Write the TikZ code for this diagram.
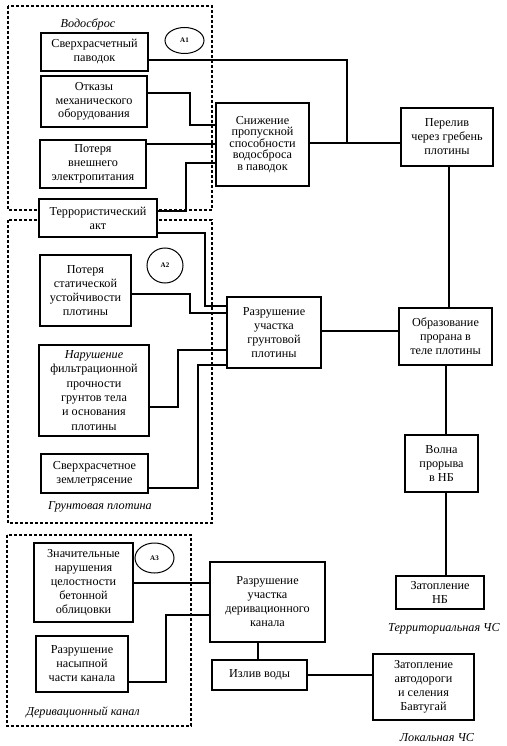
\documentclass[tikz,border=0pt]{standalone}
\usepackage{fontspec}
\setmainfont{Liberation Serif}
\usetikzlibrary{shapes.geometric}
\newcommand{\fsz}{\fontsize{12.2pt}{14pt}\selectfont}
\tikzset{
  box/.style={draw, line width=1.2pt, fill=white, align=center, inner sep=1pt, font=\fsz},
  conn/.style={line width=1.1pt},
  grp/.style={line width=1.3pt, dash pattern=on 3pt off 2pt},
  lab/.style={font=\fsz\itshape, inner sep=0pt},
  circ/.style={draw, ellipse, line width=1pt, inner sep=0pt, font=\fontsize{7pt}{8pt}\selectfont\bfseries}
}
\begin{document}
\begin{tikzpicture}[x=1pt,y=-1pt]
\useasboundingbox (0,0) rectangle (506,746);
% groups
\draw[grp] (8,6) rectangle (212,210);
\draw[grp] (8,220) rectangle (212,523);
\draw[grp] (7,535) rectangle (191,726);
% labels
\node[lab] (lvs) at (88,24) {Водосброс};
\node[lab] (lgp) at (100,507) {Грунтовая плотина};
\node[lab] (ldk) at (83,712) {Деривационный канал};
\node[lab] (lter) at (444,629) {Территориальная ЧС};
\node[lab] (lloc) at (437,738) {Локальная ЧС};
\node[circ, minimum width=39pt, minimum height=26pt] (a1) at (184.5,40.5) {A1};
\node[circ, minimum width=36pt, minimum height=35pt] (a2) at (165,265.5) {A2};
\node[circ, minimum width=39pt, minimum height=30pt] (a3) at (154.5,558) {A3};
% nodes
\node[box, minimum width=107pt, minimum height=38pt] (sp) at (94.5,52) {Сверхрасчетный\\паводок};
\node[box, minimum width=106pt, minimum height=51pt, font=\fontsize{12.2pt}{13.3pt}\selectfont] (otk) at (94,101.5) {Отказы\\механического\\оборудования};
\node[box, minimum width=106pt, minimum height=48pt] (pot) at (93,164) {Потеря\\внешнего\\электропитания};
\node[box, minimum width=118pt, minimum height=38pt] (ter) at (98,218) {Террористический\\акт};
\node[box, minimum width=93pt, minimum height=83pt, font=\fontsize{12.2pt}{11.5pt}\selectfont] (sn) at (262.5,144.5) {Снижение\\пропускной\\способности\\водосброса\\в паводок};
\node[box, minimum width=92pt, minimum height=58pt] (pe) at (447,137) {Перелив\\через гребень\\плотины};
\node[box, minimum width=91pt, minimum height=71pt] (st) at (85.5,290.5) {Потеря\\статической\\устойчивости\\плотины};
\node[box, minimum width=110pt, minimum height=91pt, font=\fontsize{12.2pt}{14.3pt}\selectfont] (fl) at (94,390.5) {\textit{Нарушение}\\фильтрационной\\прочности\\грунтов тела\\и основания\\плотины};
\node[box, minimum width=107pt, minimum height=39pt] (zm) at (94.5,473.5) {Сверхрасчетное\\землетрясение};
\node[box, minimum width=94pt, minimum height=71pt] (rz) at (274,332.5) {Разрушение\\участка\\грунтовой\\плотины};
\node[box, minimum width=93pt, minimum height=57pt] (ob) at (445.5,336.5) {Образование\\прорана в\\теле плотины};
\node[box, minimum width=73pt, minimum height=57pt] (vo) at (441.5,463.5) {Волна\\прорыва\\в НБ};
\node[box, minimum width=88pt, minimum height=33pt] (zb) at (440,592.5) {Затопление\\НБ};
\node[box, minimum width=99pt, minimum height=79pt] (zn) at (83.5,582.5) {Значительные\\нарушения\\целостности\\бетонной\\облицовки};
\node[box, minimum width=92pt, minimum height=56pt] (ns) at (82,664) {Разрушение\\насыпной\\части канала};
\node[box, minimum width=115pt, minimum height=80pt] (dr) at (267.5,602) {Разрушение\\участка\\деривационного\\канала};
\node[box, minimum width=95pt, minimum height=30pt] (iz) at (259.5,675) {Излив воды};
\node[box, minimum width=101pt, minimum height=66pt] (za) at (423.5,687) {Затопление\\автодороги\\и селения\\Бавтугай};
% connectors
\coordinate (j1) at (347,143);
\draw[conn] (sp.east |- 0,60) -| (j1);
\draw[conn] (sn.east |- 0,143) -- (pe.west |- 0,143);
\draw[conn] (otk.east |- 0,93) -| (190,125) -- (sn.west |- 0,125);
\draw[conn] (pot.east |- 0,144) -- (sn.west |- 0,144);
\draw[conn] (ter.east |- 0,211) -| (186,163) -- (sn.west |- 0,163);
\draw[conn] (ter.east |- 0,233) -| (205,306) -- (rz.west |- 0,306);
\draw[conn] (st.east |- 0,294) -| (190,313) -- (rz.west |- 0,313);
\draw[conn] (fl.east |- 0,407) -| (178,350) -- (rz.west |- 0,350);
\draw[conn] (zm.east |- 0,488) -| (198,365) -- (rz.west |- 0,365);
\draw[conn] (rz.east |- 0,331) -- (ob.west |- 0,331);
\draw[conn] (pe.south -| 449,0) -- (ob.north -| 449,0);
\draw[conn] (ob.south -| 446,0) -- (vo.north -| 446,0);
\draw[conn] (vo.south -| 446,0) -- (zb.north -| 446,0);
\draw[conn] (zn.east |- 0,583) -- (dr.west |- 0,583);
\draw[conn] (ns.east |- 0,682) -| (166,615) -- (dr.west |- 0,615);
\draw[conn] (dr.south -| 258,0) -- (iz.north -| 258,0);
\draw[conn] (iz.east) -- (za.west |- iz.east);
\end{tikzpicture}
\end{document}
